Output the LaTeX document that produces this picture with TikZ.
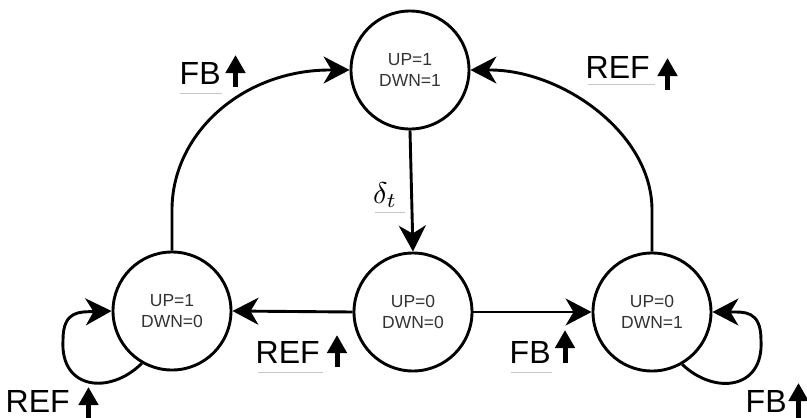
\documentclass[tikz,border=0pt]{standalone}
\usepackage{fontspec}
\setmainfont{Liberation Sans}
\usetikzlibrary{arrows.meta}
\begin{document}
\begin{tikzpicture}[x=1pt,y=-1pt,
 state/.style={circle,draw,line width=2.9pt,minimum size=118pt,inner sep=0pt,align=center,font=\fontsize{17.5}{21}\selectfont,text=black!80},
 edge/.style={line width=2.9pt,-{Stealth[length=26pt,width=27pt,inset=8pt]}},
 lbl/.style={inner sep=0pt,anchor=base west,font=\fontsize{32}{36}\selectfont},
 uparr/.style={line width=5pt,-{Triangle[length=18pt,width=19pt]}},
 uline/.style={draw=black!22,line width=1pt}]
\useasboundingbox (0,0) rectangle (807,418);
\node[state] (t) at (410,70) {UP=1\\DWN=1};
\node[state] (m) at (413,312) {UP=0\\DWN=0};
\node[state] (l) at (172,311) {UP=1\\DWN=0};
\node[state] (r) at (652,312) {UP=0\\DWN=1};
% connectors
\draw[edge] (l.north) -- (172,210) .. controls (172,133) and (243,70) .. (330,70) -- (t.west);
\draw[edge] (r.north) -- (652,210) .. controls (652,133) and (562,70) .. (490,70) -- (t.east);
\draw[edge] (t.south) -- (m.north);
\draw[edge] (m.west) -- (l.east);
\draw[edge] (m.east) -- (r.west);
\draw[edge] (l.240) .. controls (110,395) and (60,390) .. (63,340) .. controls (63,310) and (80,312) .. (l.west);
\draw[edge] (r.300) .. controls (714,395) and (764,390) .. (761,340) .. controls (761,310) and (744,312) .. (r.east);
% labels
\node[lbl] (fbA) at (179.5,84) {FB};
\draw[uparr] (235.5,87) -- (235.5,55);
\draw[uline] (180,93) -- (222,93);
\node[lbl] (refA) at (585.5,78) {REF};
\draw[uparr] (667.5,90) -- (667.5,58);
\draw[uline] (588,84) -- (655,84);
\node[inner sep=0pt,anchor=base west] (dl) at (373,203) {\scalebox{3}{$\delta_t$}};
\draw[uline] (375,212) -- (405,212);
\node[lbl] (refB) at (255.5,363) {REF};
\draw[uparr] (337,367) -- (337,335);
\draw[uline] (258,372) -- (323,372);
\node[lbl] (fbB) at (509.5,363) {FB};
\draw[uparr] (565,363) -- (565,330);
\draw[uline] (511,372) -- (552,372);
\node[lbl] (refC) at (5.5,412) {REF};
\draw[uparr] (88.5,421) -- (88.5,387);
\node[lbl] (fbC) at (745.5,412) {FB};
\draw[uparr] (798.5,421) -- (798.5,383);
\end{tikzpicture}
\end{document}
